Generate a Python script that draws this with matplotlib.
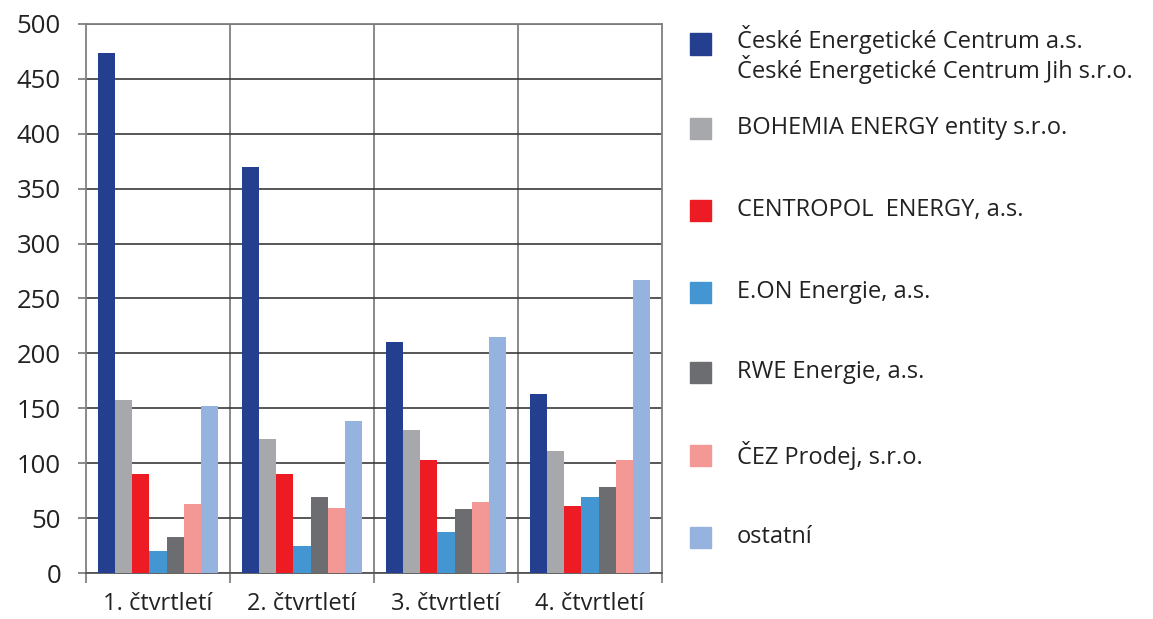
import numpy as np
import matplotlib.pyplot as plt
from matplotlib.patches import Rectangle

plt.rcParams['font.family'] = ['Open Sans', 'DejaVu Sans']

quarters = ["1. čtvrtletí", "2. čtvrtletí", "3. čtvrtletí", "4. čtvrtletí"]
series_names = [
    "České Energetické Centrum a.s.\nČeské Energetické Centrum Jih s.r.o.",
    "BOHEMIA ENERGY entity s.r.o.",
    "CENTROPOL  ENERGY, a.s.",
    "E.ON Energie, a.s.",
    "RWE Energie, a.s.",
    "ČEZ Prodej, s.r.o.",
    "ostatní",
]
cec_values = [474, 370, 210, 163]
bohemia_values = [158, 122, 130, 111]
centropol_values = [90, 90, 103, 61]
eon_values = [20, 25, 37, 69]
rwe_values = [33, 69, 58, 78]
cez_values = [63, 59, 65, 103]
other_values = [152, 138, 215, 267]
colors = ["#243f8f", "#a7a8ab", "#ed1c24", "#4396d2", "#6c6d70", "#f49896", "#95b3de"]

series = [cec_values, bohemia_values, centropol_values, eon_values,
          rwe_values, cez_values, other_values]

fig = plt.figure(figsize=(11.53, 6.19), dpi=100)
ax = fig.add_axes([0.0746, 0.0743, 0.4996, 0.887])

x = np.arange(len(quarters))
n = len(series)
w = 0.119
for i, vals in enumerate(series):
    ax.bar(x + (i - (n - 1) / 2) * w, vals, width=w, color=colors[i], zorder=3)

ax.set_xlim(-0.5, len(quarters) - 0.5)
ax.set_ylim(0, 500)
ax.set_yticks(np.arange(0, 501, 50))
ax.yaxis.grid(True, color="#3a3a3a", lw=1.2, zorder=1)
for b in np.arange(0.5, len(quarters) - 0.5, 1):
    ax.axvline(b, color="#808080", lw=1.3, zorder=1)

ax.set_xticks(x)
ax.set_xticklabels(quarters)
ax.set_xticks(np.arange(-0.5, len(quarters), 1), minor=True)
ax.tick_params(axis="x", which="major", length=0, pad=14, labelsize=17, labelcolor="#222222")
ax.tick_params(axis="x", which="minor", length=7, color="#808080", width=1.3)
ax.tick_params(axis="y", length=6, color="#808080", width=1.3, labelsize=18.5,
               labelcolor="#222222", pad=12)

for side in ["left", "right", "top", "bottom"]:
    ax.spines[side].set_color("#808080")
    ax.spines[side].set_linewidth(1.3)
ax.spines["bottom"].set_color("#555555")

# legend drawn by hand on the right
sq_x, sq_w = 690 / 1153, 21 / 1153
sq_h = 21 / 619
text_x = 737 / 1153
legend_y = [44, 128, 210, 292, 372, 455, 537]
for name, c, yp in zip(series_names, colors, legend_y):
    yc = 1 - yp / 619
    fig.patches.append(Rectangle((sq_x, yc - sq_h / 2), sq_w, sq_h,
                                 transform=fig.transFigure, color=c, figure=fig))
    two_line = "\n" in name
    ty = yc + (0.03 if two_line else 0)
    fig.text(text_x, ty, name, fontsize=17, color="#222222",
             va="top" if two_line else "center", linespacing=1.02)

fig.savefig("out.png", dpi=100)
